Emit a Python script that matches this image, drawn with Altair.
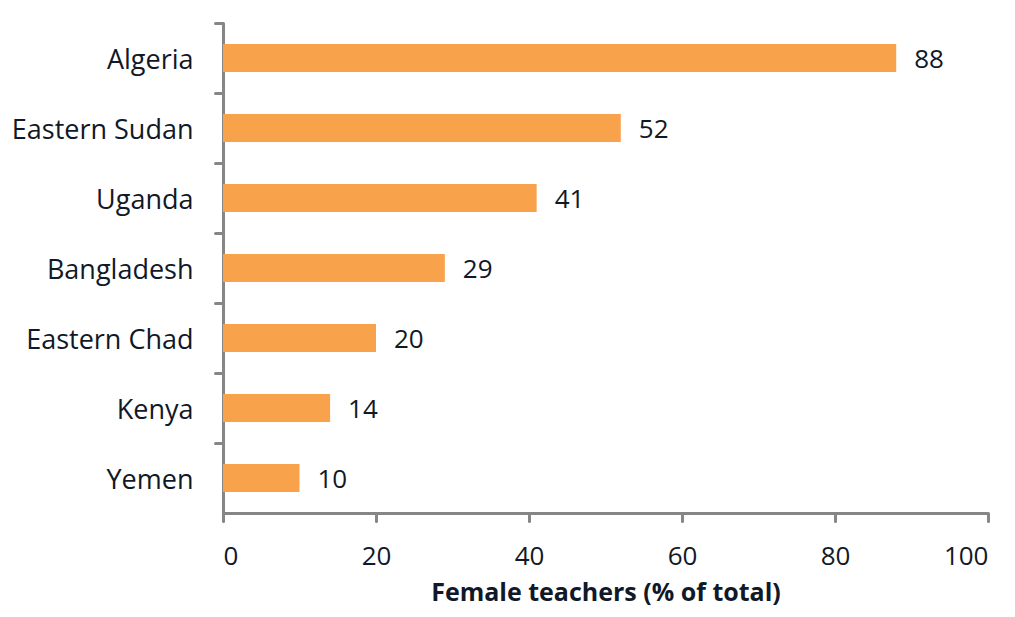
import altair as alt
import pandas as pd

countries = ["Algeria", "Eastern Sudan", "Uganda", "Bangladesh", "Eastern Chad", "Kenya", "Yemen"]
values = [88, 52, 41, 29, 20, 14, 10]

df = pd.DataFrame({"country": countries, "value": values})

FONT = "Open Sans"
TXT = "#111827"
AX = "#868686"

y_enc = alt.Y("country:N", sort=countries, title=None,
              scale=alt.Scale(paddingInner=0.6, paddingOuter=0.3),
              axis=alt.Axis(bandPosition=0, tickOffset=-21, domainColor=AX, domainWidth=3,
                            tickColor=AX, tickWidth=3, tickSize=8, tickCap="round",
                            labelFont=FONT, labelFontSize=27, labelColor=TXT,
                            labelPadding=22, labelOffset=23, labelLimit=400, grid=False))
x_enc = alt.X("value:Q", title="Female teachers (% of total)",
              scale=alt.Scale(domain=[0, 100], nice=False),
              axis=alt.Axis(values=[0, 20, 40, 60, 80, 100], domainColor=AX, domainWidth=3,
                            tickColor=AX, tickWidth=3, tickSize=8, tickCap="round",
                            labelFont=FONT, labelFontSize=26, labelColor=TXT,
                            labelPadding=22, grid=False,
                            titleFont=FONT, titleFontSize=25, titleFontWeight="bold",
                            titleColor=TXT, titlePadding=11))

bars = alt.Chart(df).mark_bar(color="#F8A24C").encode(x=x_enc, y=y_enc)
labels = alt.Chart(df).mark_text(align="left", baseline="middle", dx=18, dy=2,
                                 font=FONT, fontSize=26, color=TXT).encode(
    x="value:Q", y=alt.Y("country:N", sort=countries), text="value:Q")

chart = (bars + labels).properties(
    width=765, height=490,
    autosize=alt.AutoSizeParams(type="none"),
    padding={"left": 215, "top": 15, "right": 10, "bottom": 96},
).configure_view(stroke=None)

chart.save("out.html", embed_options={"renderer": "svg", "actions": False})
